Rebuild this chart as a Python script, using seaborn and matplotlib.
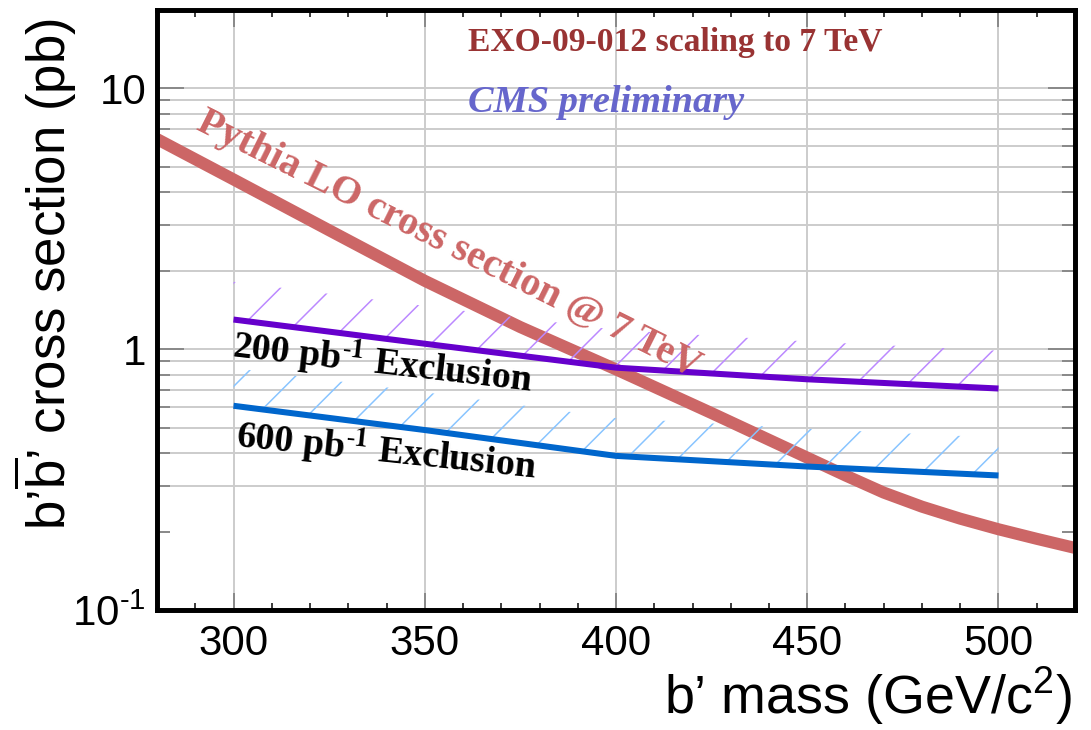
import numpy as np
import pandas as pd
import matplotlib
matplotlib.use("Agg")
import matplotlib.pyplot as plt
import seaborn as sns
from matplotlib.ticker import FixedLocator, FixedFormatter, MultipleLocator, NullFormatter

# ---------------- data ----------------
mass_pythia = [280, 300, 325, 350, 375, 400, 425, 450, 460, 470, 480, 490, 500, 510, 520]
xsec_pythia = [6.40, 4.48, 2.86, 1.83, 1.216, 0.837, 0.569, 0.384, 0.328, 0.282,
               0.249, 0.224, 0.204, 0.1875, 0.173]

mass_excl = [300, 350, 400, 450, 500]
excl_200 = [1.30, 1.05, 0.85, 0.767, 0.707]
excl_600 = [0.607, 0.49, 0.39, 0.355, 0.328]

x_ticks = [300, 350, 400, 450, 500]
x_tick_labels = ["300", "350", "400", "450", "500"]
y_ticks = [0.1, 1, 10]
y_tick_labels = [r"$10^{\text{-}1}$", "1", "10"]
y_minor_ticks = [0.2, 0.3, 0.4, 0.5, 0.6, 0.7, 0.8, 0.9, 2, 3, 4, 5, 6, 7, 8, 9]
y_grid_levels = [0.3, 0.4, 0.5, 0.6, 0.7, 0.8, 0.9, 1, 2, 3, 4, 5, 6, 7, 8, 9, 10]

title_text = "EXO-09-012 scaling to 7 TeV"
prelim_text = "CMS preliminary"
pythia_text = "Pythia LO cross section @ 7 TeV"
label_200 = r"200 pb$^{\text{-}\mathbf{1}}$ Exclusion"
label_600 = r"600 pb$^{\text{-}\mathbf{1}}$ Exclusion"

# ---------------- style ----------------
BAND_DEC = 0.145  # hatched band thickness (decades)

sns.set_theme(style="white")
plt.rcParams.update({
    "font.family": ["Liberation Sans", "DejaVu Sans"],
    "mathtext.fontset": "custom",
    "mathtext.rm": "Liberation Sans",
    "mathtext.it": "Liberation Sans:italic",
    "mathtext.bf": "Liberation Sans:bold",
    "hatch.linewidth": 0.7,
    "axes.edgecolor": "black",
    "axes.labelcolor": "black",
    "text.color": "black",
    "xtick.labelcolor": "black",
    "ytick.labelcolor": "black",
})

DPI = 155
W, H = 1091, 730
fig = plt.figure(figsize=(W / DPI, H / DPI), dpi=DPI)
L, R, T, B = 157, 1075, 10, 610
ax = fig.add_axes([L / W, 1 - B / H, (R - L) / W, (B - T) / H])
ax.set_yscale("log")

# grid
for g in y_grid_levels:
    ax.axhline(g, color="#cccccc", lw=0.9, zorder=0)
ax.xaxis.grid(True, which="major", color="#cccccc", lw=0.9, zorder=0)
ax.set_axisbelow(True)

# Pythia curve
df_p = pd.DataFrame({"mass": mass_pythia, "xsec": xsec_pythia})
sns.lineplot(data=df_p, x="mass", y="xsec", ax=ax, color="#cc6666", lw=5.6,
             solid_capstyle="butt", solid_joinstyle="round", zorder=3)

# hatched bands
e200 = np.array(excl_200)
e600 = np.array(excl_600)
ax.fill_between(mass_excl, e200, e200 * 10 ** BAND_DEC, facecolor="none",
                edgecolor="#bb88ff", hatch="/", linewidth=0, zorder=4)
ax.fill_between(mass_excl, e600, e600 * 10 ** BAND_DEC, facecolor="none",
                edgecolor="#88c4ff", hatch="/", linewidth=0, zorder=4)

df_e = pd.DataFrame({"mass": mass_excl, "x200": excl_200, "x600": excl_600})
sns.lineplot(data=df_e, x="mass", y="x200", ax=ax, color="#6600cc", lw=2.8,
             solid_capstyle="butt", zorder=5)
sns.lineplot(data=df_e, x="mass", y="x600", ax=ax, color="#0066cc", lw=2.8,
             solid_capstyle="butt", zorder=5)

ax.set_xlim(280, 520)
ax.set_ylim(0.1, 20)

# ticks
ax.xaxis.set_major_locator(FixedLocator(x_ticks))
ax.xaxis.set_major_formatter(FixedFormatter(x_tick_labels))
ax.xaxis.set_minor_locator(MultipleLocator(10))
ax.yaxis.set_major_locator(FixedLocator(y_ticks))
ax.yaxis.set_major_formatter(FixedFormatter(y_tick_labels))
ax.yaxis.set_minor_locator(FixedLocator(y_minor_ticks))
ax.yaxis.set_minor_formatter(NullFormatter())

ax.tick_params(axis="both", which="both", direction="in")
ax.tick_params(axis="x", which="both", top=True, bottom=True)
ax.tick_params(axis="x", which="major", length=8, width=0.9, color="#888888",
               labelsize=19.5, pad=6.5, labelcolor="black")
ax.tick_params(axis="x", which="minor", length=3.3, width=0.8, color="#222222")
ax.tick_params(axis="y", which="both", left=True, right=True)
ax.tick_params(axis="y", which="major", length=12.5, width=0.9, color="#888888",
               labelsize=19.5, pad=5, labelcolor="black")
ax.tick_params(axis="y", which="minor", length=6, width=0.9, color="#888888")

for s in ax.spines.values():
    s.set_linewidth(2.3)
    s.set_color("black")
    s.set_zorder(10)

# axis labels
ax.set_ylabel(r"b’$\overline{\mathrm{b}}$’ cross section (pb)", fontsize=24.5,
              ha="right", va="center", color="black")
ax.yaxis.set_label_coords((45 - L) / (R - L), (B - 18) / (B - T))
ax.set_xlabel(r"b’ mass (GeV/c$^2$)", fontsize=25, ha="right", va="center",
              color="black")
ax.xaxis.set_label_coords((1072 - L) / (R - L), (B - 696) / (B - T))

# annotations
serif = ["Liberation Serif", "DejaVu Serif"]
ax.text(361.3, 13.9, title_text, family=serif, weight="bold", color="#993333",
        fontsize=15.6, ha="left", va="baseline", zorder=6)
ax.text(361.3, 8.1, prelim_text, family=serif, weight="bold", style="italic",
        color="#6666cc", fontsize=17.8, ha="left", va="baseline", zorder=6)
ax.text(289.9, 7.0, pythia_text, family=serif, weight="bold", color="#cc6666",
        fontsize=18.5, rotation=-26.5, rotation_mode="anchor", ha="left",
        va="baseline", zorder=6)
ax.text(299.5, 0.93, label_200, family=serif, weight="bold", color="black",
        fontsize=17.6, rotation=-6.6, rotation_mode="anchor", ha="left",
        va="baseline", math_fontfamily="stix", zorder=6)
ax.text(300.4, 0.422, label_600, family=serif, weight="bold", color="black",
        fontsize=17.6, rotation=-6.0, rotation_mode="anchor", ha="left",
        va="baseline", math_fontfamily="stix", zorder=6)

fig.savefig("out.png", dpi=DPI)
